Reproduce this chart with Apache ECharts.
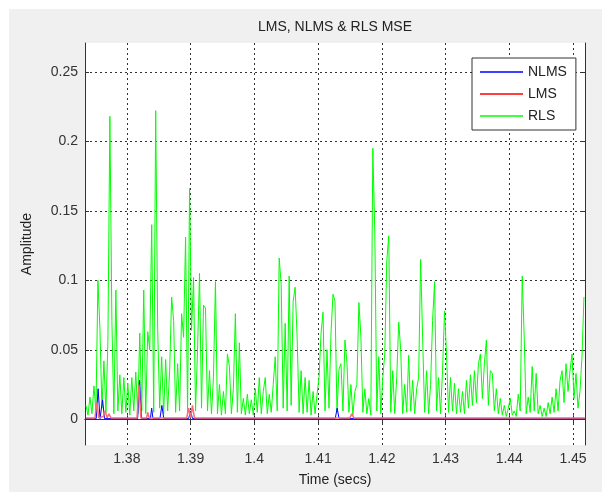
<!DOCTYPE html>
<html>
<head>
<meta charset="utf-8">
<title>LMS, NLMS & RLS MSE</title>
<script src="https://cdn.jsdelivr.net/npm/echarts@6/dist/echarts.min.js"></script>
<style>
  html, body { margin: 0; padding: 0; background: #fff; }
  #main { width: 602px; height: 492px; }
</style>
</head>
<body>
<div id="main"></div>
<script>
// 坐标轴刻度
var xTicks = [1.38, 1.39, 1.4, 1.41, 1.42, 1.43, 1.44, 1.45];
var yTicks = [0, 0.05, 0.1, 0.15, 0.2, 0.25];

// RLS: uniform sample grid starting at rlsStart
var rlsStart = 1.373594;
var rlsStep = 0.0003125;
var rlsValue = [
  0.01, 0.003, 0.016, 0.004, 0.024, 0.006, 0.1, 0.065, 0.008, 0.042,
  0.005, 0.056, 0.218, 0.071, 0.004, 0.093, 0.006, 0.032, 0.004, 0.03,
  0.005, 0.026, 0.003, 0.03, 0.006, 0.034, 0.004, 0.062, 0.006, 0.093,
  0.004, 0.063, 0.05, 0.14, 0.005, 0.222, 0.064, 0.008, 0.045, 0.004,
  0.043, 0.006, 0.035, 0.088, 0.071, 0.005, 0.04, 0.006, 0.076, 0.059,
  0.131, 0.005, 0.166, 0.064, 0.102, 0.006, 0.05, 0.105, 0.008, 0.082,
  0.08, 0.006, 0.035, 0.004, 0.03, 0.099, 0.004, 0.025, 0.003, 0.02,
  0.004, 0.047, 0.038, 0.004, 0.022, 0.076, 0.005, 0.055, 0.004, 0.015,
  0.003, 0.018, 0.004, 0.014, 0.003, 0.022, 0.005, 0.03, 0.004, 0.02,
  0.03, 0.004, 0.018, 0.005, 0.025, 0.045, 0.006, 0.116, 0.097, 0.008,
  0.069, 0.006, 0.103, 0.01, 0.085, 0.095, 0.059, 0.005, 0.035, 0.004,
  0.03, 0.005, 0.028, 0.003, 0.02, 0.004, 0.018, 0.03, 0.062, 0.077,
  0.006, 0.05, 0.008, 0.062, 0.09, 0.085, 0.005, 0.036, 0.04, 0.006,
  0.057, 0.041, 0.005, 0.025, 0.003, 0.02, 0.025, 0.084, 0.06, 0.005,
  0.022, 0.004, 0.015, 0.003, 0.195, 0.134, 0.006, 0.045, 0.004, 0.03,
  0.047, 0.114, 0.132, 0.005, 0.035, 0.004, 0.03, 0.07, 0.05, 0.004,
  0.025, 0.005, 0.046, 0.006, 0.028, 0.004, 0.022, 0.03, 0.115, 0.059,
  0.005, 0.035, 0.004, 0.025, 0.071, 0.099, 0.006, 0.03, 0.004, 0.035,
  0.078, 0.047, 0.005, 0.03, 0.006, 0.026, 0.004, 0.022, 0.005, 0.02,
  0.004, 0.028, 0.008, 0.032, 0.01, 0.035, 0.012, 0.04, 0.047, 0.015,
  0.04, 0.057, 0.01, 0.035, 0.033, 0.006, 0.022, 0.004, 0.015, 0.003,
  0.01, 0.002, 0.008, 0.015, 0.003, 0.006, 0.002, 0.018, 0.006, 0.103,
  0.059, 0.004, 0.016, 0.005, 0.038, 0.006, 0.033, 0.004, 0.01, 0.002,
  0.008, 0.002, 0.012, 0.004, 0.016, 0.005, 0.022, 0.006, 0.028, 0.035,
  0.012, 0.04, 0.02, 0.035, 0.047, 0.015, 0.033, 0.008, 0.02, 0.045,
  0.088
];

// LMS
var lmsTime = [1.3736, 1.3750, 1.3753, 1.3756, 1.3763, 1.3766, 1.3769, 1.3772, 1.3775,
  1.3816, 1.3819, 1.3822, 1.3825, 1.3831, 1.3833, 1.3835, 1.3894, 1.3897, 1.3900,
  1.3903, 1.3906, 1.4150, 1.4153, 1.4156, 1.4519];
var lmsValue = [0.001, 0.001, 0.012, 0.001, 0.002, 0.006, 0.001, 0.004, 0.001,
  0.001, 0.025, 0.001, 0.001, 0.001, 0.005, 0.001, 0.001, 0.008, 0.001,
  0.01, 0.001, 0.001, 0.004, 0.001, 0.001];

// NLMS
var nlmsTime = [1.3736, 1.3752, 1.3755, 1.3758, 1.3760, 1.3762, 1.3765, 1.3817, 1.3820,
  1.3823, 1.3837, 1.3839, 1.3841, 1.3852, 1.3855, 1.3858, 1.3897, 1.3900, 1.3903,
  1.4127, 1.4130, 1.4133, 1.4519];
var nlmsValue = [0.0005, 0.0005, 0.022, 0.0005, 0.0005, 0.014, 0.0005, 0.0005, 0.028,
  0.0005, 0.0005, 0.008, 0.0005, 0.0005, 0.01, 0.0005, 0.0005, 0.006, 0.0005,
  0.0005, 0.008, 0.0005, 0.0005];

function toPairs(times, vals) {
  var out = [];
  for (var i = 0; i < vals.length; i++) {
    out.push([times[i], vals[i]]);
  }
  return out;
}

var rlsTime = [];
for (var i = 0; i < rlsValue.length; i++) {
  rlsTime.push(rlsStart + i * rlsStep);
}

var font = "'Liberation Sans', Arial, sans-serif";
var xMin = 1.37344, xMax = 1.45188;
var yMin = -0.0185, yMax = 0.2707;

var gridLine = { show: true, lineStyle: { color: "#333", width: 1, type: [2, 3] } };
var boxLine = { show: true, lineStyle: { color: "#333", width: 1 } };

var myChart = echarts.init(document.getElementById("main"), null, { renderer: "canvas" });
var option = {
  animation: false,
  backgroundColor: "#fff",
  graphic: [
    {
      type: "rect",
      z: -10,
      shape: { x: 9, y: 9, width: 593, height: 483 },
      style: { fill: "#f0f0f0" },
    },
  ],
  title: {
    text: "LMS, NLMS & RLS MSE",
    left: 335,
    top: 20,
    padding: 0,
    textAlign: "center",
    textStyle: { fontFamily: font, fontSize: 14, fontWeight: "normal", color: "#222" },
  },
  legend: {
    data: ["NLMS", "LMS", "RLS"],
    orient: "vertical",
    left: 472,
    top: 58,
    padding: [7, 9, 7, 8],
    icon: "rect",
    itemWidth: 43,
    itemHeight: 1.5,
    itemGap: 8,
    backgroundColor: "#fff",
    borderColor: "#333",
    borderWidth: 1,
    textStyle: { fontFamily: font, fontSize: 14, color: "#222", lineHeight: 14 },
  },
  grid: { left: 85, right: 17, top: 43, bottom: 44, containLabel: false, backgroundColor: "#fff", show: true, borderWidth: 0 },
  xAxis: [
    {
      type: "value",
      min: xMin,
      max: xMax,
      position: "bottom",
      name: "Time (secs)",
      nameLocation: "middle",
      nameGap: 28,
      nameTextStyle: { fontFamily: font, fontSize: 14, color: "#222" },
      axisLine: boxLine,
      axisTick: { show: true, inside: true, length: 4, customValues: xTicks, lineStyle: { color: "#333" } },
      axisLabel: { customValues: xTicks, margin: 7, fontFamily: font, fontSize: 14, color: "#333" },
      splitLine: gridLine,
    },
    {
      type: "value",
      min: xMin,
      max: xMax,
      position: "top",
      axisLine: boxLine,
      axisTick: { show: true, inside: true, length: 4, customValues: xTicks, lineStyle: { color: "#333" } },
      axisLabel: { show: false },
      splitLine: { show: false },
    },
  ],
  yAxis: [
    {
      type: "value",
      min: yMin,
      max: yMax,
      position: "left",
      name: "Amplitude",
      nameLocation: "middle",
      nameGap: 51,
      nameTextStyle: { fontFamily: font, fontSize: 14, color: "#222" },
      axisLine: boxLine,
      axisTick: { show: true, inside: true, length: 4, customValues: yTicks, lineStyle: { color: "#333" } },
      axisLabel: { customValues: yTicks, margin: 7, fontFamily: font, fontSize: 14, color: "#333" },
      splitLine: gridLine,
    },
    {
      type: "value",
      min: yMin,
      max: yMax,
      position: "right",
      axisLine: boxLine,
      axisTick: { show: true, inside: true, length: 4, customValues: yTicks, lineStyle: { color: "#333" } },
      axisLabel: { show: false },
      splitLine: { show: false },
    },
  ],
  series: [
    {
      name: "RLS",
      type: "line",
      symbol: "none",
      data: toPairs(rlsTime, rlsValue),
      lineStyle: { color: "#00ff00", width: 1 },
      itemStyle: { color: "#00ff00" },
      z: 2,
    },
    {
      name: "NLMS",
      type: "line",
      symbol: "none",
      data: toPairs(nlmsTime, nlmsValue),
      lineStyle: { color: "#0000ff", width: 1 },
      itemStyle: { color: "#0000ff" },
      z: 3,
    },
    {
      name: "LMS",
      type: "line",
      symbol: "none",
      data: toPairs(lmsTime, lmsValue),
      lineStyle: { color: "#ff6a6a", width: 1.5 },
      itemStyle: { color: "#ff0000" },
      z: 4,
    },
  ],
};
myChart.setOption(option);
</script>
</body>
</html>
